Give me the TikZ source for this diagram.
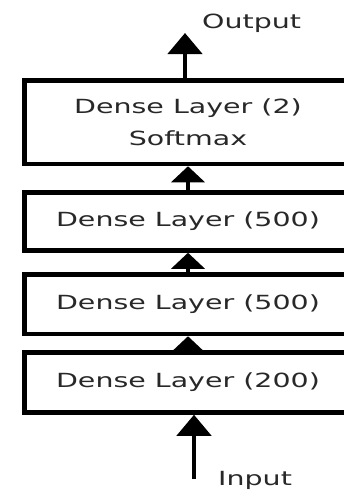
\documentclass[tikz,border=0pt]{standalone}
\usepackage{fontspec}
\setmainfont{DejaVu Sans}
\usetikzlibrary{arrows.meta}
\definecolor{txtgray}{RGB}{40,40,40}
% wide, Verdana-like lettering
\newcommand{\widetext}[1]{\scalebox{1.46}[1]{#1}}
\begin{document}
\begin{tikzpicture}[x=1pt,y=-1pt,
  layer/.style={draw, line width=4.5pt, minimum width=327pt, inner sep=0pt,
    text=txtgray, font=\fontsize{19.5}{32}\selectfont, align=center},
  flow/.style={line width=4.5pt, -{Triangle[width=34pt,length=21pt]}},
  link/.style={line width=4.5pt, -{Triangle[width=33pt,length=16pt]}},
  tag/.style={text=txtgray, font=\fontsize{19.5}{23}\selectfont, inner sep=0pt}]
\useasboundingbox (0,0) rectangle (344,490);
\clip (0,0) rectangle (344,490);
\fill[white] (0,0) rectangle (344,490);

% stack of dense layers
\node[layer, minimum height=83.5pt] (d1) at (188,122.25)
  {\widetext{Dense Layer (2)}\\\widetext{Softmax}};
\node[layer, minimum height=58pt] (d2) at (188,221.5) {\widetext{Dense Layer (500)}};
\node[layer, minimum height=59.5pt] (d3) at (188,304.25) {\widetext{Dense Layer (500)}};
\node[layer, minimum height=60pt] (d4) at (188,382.5) {\widetext{Dense Layer (200)}};

% labels
\node[tag, anchor=base west] (out) at (202,28.5) {\widetext{Output}};
\node[tag, anchor=base west] (in) at (218,485.5) {\widetext{Input}};

% connectors
\coordinate (outtip) at (185,33);
\coordinate (inbase) at (194,479);
\draw[flow] (d1.north -| outtip) -- (outtip);
\draw[link] (d2.north) -- (d1.south);
\draw[link] (d3.north) -- (d2.south);
\draw[link] (d4.north) -- (d3.south);
\draw[flow] (inbase) -- (inbase |- d4.south);
\end{tikzpicture}
\end{document}
